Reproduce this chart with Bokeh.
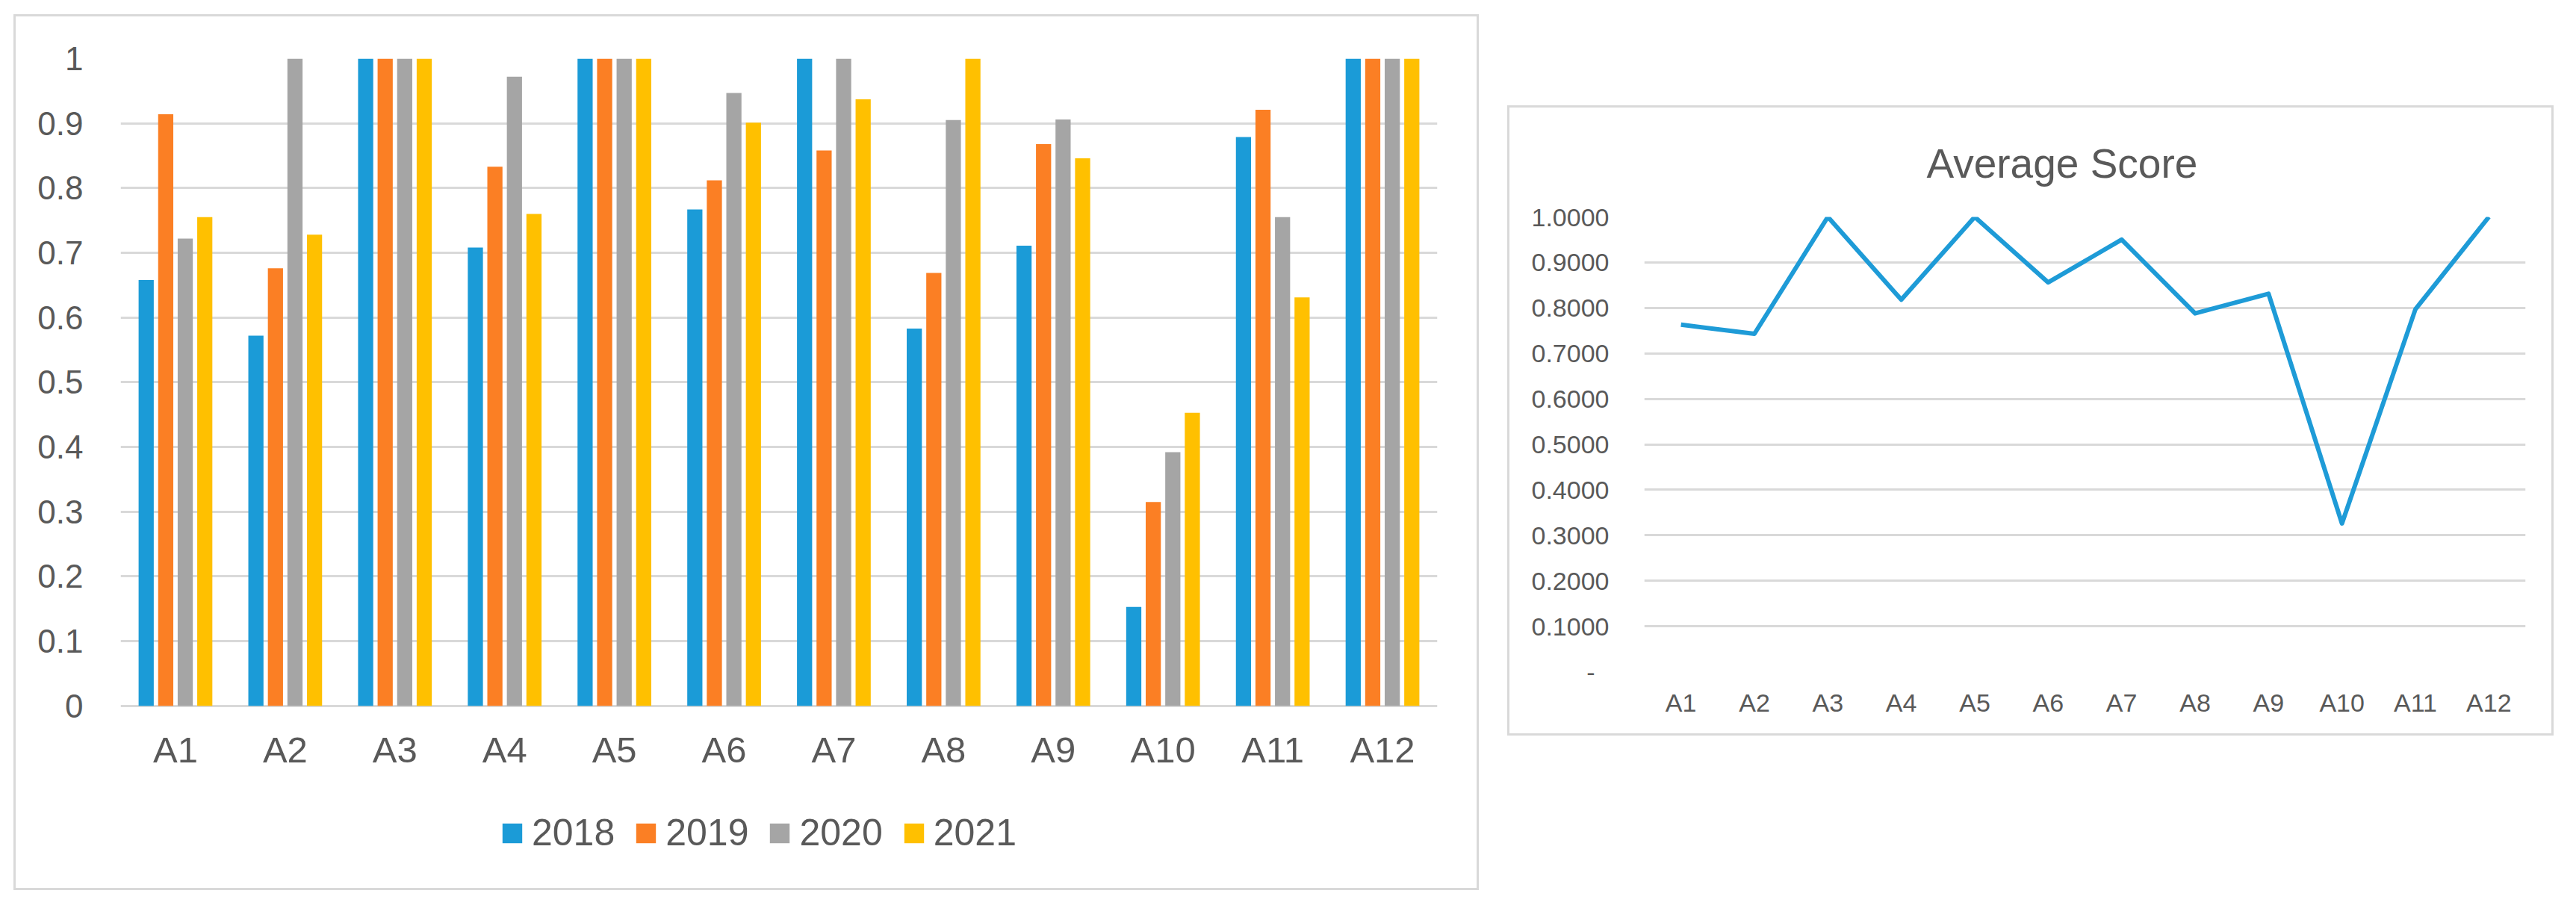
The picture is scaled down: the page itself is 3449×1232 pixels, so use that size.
from bokeh.plotting import figure
from bokeh.models import (ColumnDataSource, FactorRange, Range1d, FixedTicker, CustomJSTickFormatter,
                          Legend, LegendItem, Spacer, Title)
from bokeh.transform import dodge
from bokeh.layouts import row, column
from bokeh.embed import file_html
from bokeh.resources import INLINE

# ---------------- data ----------------
categories = ["A1", "A2", "A3", "A4", "A5", "A6", "A7", "A8", "A9", "A10", "A11", "A12"]
years = ["2018", "2019", "2020", "2021"]
s2018 = [0.658, 0.572, 1.000, 0.708, 1.000, 0.767, 1.000, 0.583, 0.711, 0.153, 0.879, 1.000]
s2019 = [0.914, 0.676, 1.000, 0.833, 1.000, 0.812, 0.858, 0.669, 0.868, 0.315, 0.921, 1.000]
s2020 = [0.722, 1.000, 1.000, 0.972, 1.000, 0.947, 1.000, 0.905, 0.906, 0.392, 0.755, 1.000]
s2021 = [0.755, 0.728, 1.000, 0.760, 1.000, 0.901, 0.937, 1.000, 0.846, 0.453, 0.631, 1.000]
avg_score = [0.763, 0.743, 1.000, 0.818, 1.000, 0.856, 0.950, 0.788, 0.831, 0.326, 0.797, 1.000]
left_ticks = [0, 0.1, 0.2, 0.3, 0.4, 0.5, 0.6, 0.7, 0.8, 0.9, 1.0]
right_ticks = [0, 0.1, 0.2, 0.3, 0.4, 0.5, 0.6, 0.7, 0.8, 0.9, 1.0]
bar_colors = ["#1B9BD7", "#FB7F24", "#A5A5A5", "#FFC000"]
line_color = "#1E9BD7"

FONT = "Liberation Sans"
TXT = "#595959"
GRID = "#D9D9D9"

# ---------------- left: grouped bars ----------------
src = ColumnDataSource(dict(cat=categories, y2018=s2018, y2019=s2019, y2020=s2020, y2021=s2021))

# frame extends below the zero line so that the legend sits inside it
p1 = figure(x_range=FactorRange(*categories), y_range=Range1d(-0.246, 1.0),
            width=1962, height=1173, output_backend="svg", toolbar_location=None,
            min_border_left=140, min_border_right=59, min_border_top=56, min_border_bottom=37)
p1.styles = {"border": "3px solid #D9D9D9"}
p1.outline_line_color = None
p1.background_fill_color = "white"
p1.border_fill_color = "white"

offsets = [-0.267, -0.089, 0.089, 0.267]
cols = ["y2018", "y2019", "y2020", "y2021"]
renderers = []
for off, c, colr in zip(offsets, cols, bar_colors):
    r = p1.vbar(x=dodge("cat", off, range=p1.x_range), top=c, width=0.138, bottom=0,
                source=src, fill_color=colr, line_color=None)
    renderers.append(r)

p1.xgrid.grid_line_color = None
p1.ygrid.grid_line_color = GRID
p1.ygrid.grid_line_width = 3
p1.yaxis.ticker = FixedTicker(ticks=left_ticks)
p1.yaxis.formatter = CustomJSTickFormatter(code="return String(+tick.toFixed(1));")
for ax in (p1.xaxis[0], p1.yaxis[0]):
    ax.axis_line_color = None
    ax.major_tick_line_color = None
    ax.minor_tick_line_color = None
    ax.major_label_text_font = FONT
    ax.major_label_text_color = TXT
p1.yaxis.major_label_text_font_size = "44px"
p1.yaxis.major_label_standoff = 44
p1.xaxis.major_label_text_font_size = "49px"
p1.xaxis.major_label_standoff = -188

legend = Legend(items=[LegendItem(label=y, renderers=[r]) for y, r in zip(years, renderers)],
                orientation="horizontal", location=(508, 14),
                glyph_width=33, glyph_height=33, label_standoff=10, spacing=25,
                padding=0, margin=0, border_line_color=None, background_fill_alpha=0,
                label_text_font=FONT, label_text_font_size="50px", label_text_color=TXT)
p1.add_layout(legend, "center")

# ---------------- right: average line ----------------
p2 = figure(x_range=FactorRange(*categories), y_range=Range1d(0, 1.0),
            width=1401, height=844, output_backend="svg", toolbar_location=None,
            min_border_left=180, min_border_right=41, min_border_top=141, min_border_bottom=89)
p2.styles = {"border": "3px solid #D9D9D9"}
p2.outline_line_color = None
p2.title = Title(text="Average Score", align="left", text_font=FONT, text_font_size="55px",
                 text_color=TXT, text_font_style="normal", standoff=82, offset=378)
p2.line(x=categories, y=avg_score, line_color=line_color, line_width=6, line_join="round")
p2.xgrid.grid_line_color = None
p2.ygrid.grid_line_color = GRID
p2.ygrid.grid_line_width = 3
p2.yaxis.ticker = FixedTicker(ticks=right_ticks)
p2.yaxis.formatter = CustomJSTickFormatter(
    code="return Math.abs(tick) < 1e-9 ? '-\u00a0\u00a0' : tick.toFixed(4);")
for ax in (p2.xaxis[0], p2.yaxis[0]):
    ax.axis_line_color = None
    ax.major_tick_line_color = None
    ax.minor_tick_line_color = None
    ax.major_label_text_font = FONT
    ax.major_label_text_color = TXT
    ax.major_label_text_font_size = "34px"
p2.yaxis.major_label_standoff = 41
p2.xaxis.major_label_standoff = 16

layout = row(Spacer(width=18), column(Spacer(height=19), p1), Spacer(width=38),
             column(Spacer(height=141), p2))

open("out.html", "w").write(file_html(layout, INLINE))
